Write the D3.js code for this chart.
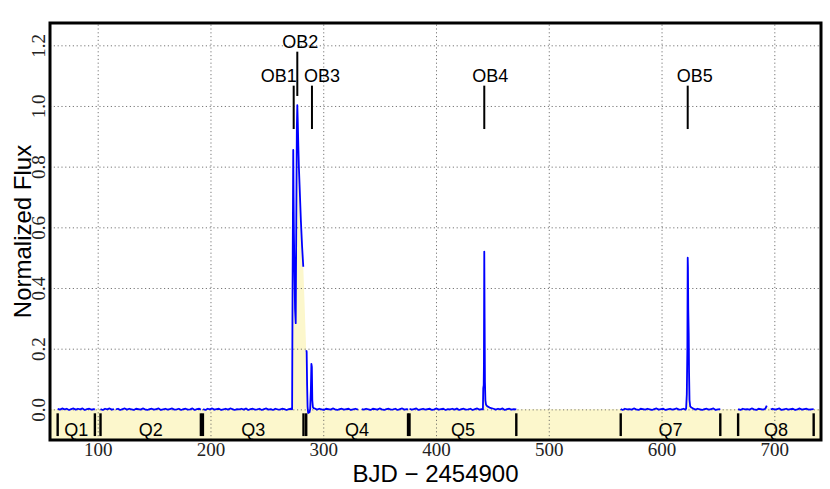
<!DOCTYPE html>
<html>
<head>
<meta charset="utf-8">
<script src="https://cdn.jsdelivr.net/npm/d3@7"></script>
<style>
  body { margin: 0; background: #fff; }
  svg { display: block; }
</style>
</head>
<body>
<svg id="chart" width="830" height="489"></svg>
<script>
// light curve, one array per continuous stretch of data: [BJD - 2454900, normalized flux]
const q1 = [[64.5,.002],[66.5,-.001],[68.5,.003],[70.5,.000],[72.5,.002],[74.5,-.002],[76.5,.001],[78.5,.003],[80.5,-.001],[82.5,.002],[84.5,.000],[86.5,.003],[88.5,-.002],[90.5,.001],[92.5,.002],[94.5,-.001],[96.5,.001],[97.5,-.001]];
const q2a = [[102.5,.001],[104.5,-.002],[106.5,.002],[108.5,.000],[110.5,.003],[112.5,-.001],[114.4,.001]];
const q2b = [[116.2,.000],[118,.002],[120,-.002],[122,.001],[124,.003],[126,-.001],[128,.002],[130,.000],[132,-.002],[134,.002],[136,.001],[138,-.001],[140,.003],[142,.000],[144,-.002],[146,.001],[148,.002],[150,-.001],[152,.001],[154,.003],[156,-.002],[158,.000],[160,.002],[162,-.001],[164,.001],[166,.003],[168,-.001],[170,.000],[172,.002],[174,-.002],[176,.001],[178,.002],[180,-.001],[182,.000],[184,.003],[186,-.002],[188,.001],[190,.002],[191.5,-.001]];
const q3 = [[193.5,.001],[195.5,-.002],[197.5,.002],[199.5,.000],[201.5,.003],[203.5,-.001],[205.5,.001],[207.5,.002],[209.5,-.002],[211.5,.000],[213.5,.002],[215.5,-.001],[217.5,.003],[219.5,.001],[221.5,-.002],[223.5,.001],[225.5,.000],[227.5,.002],[229.5,-.001],[231.5,.003],[233.5,-.002],[235.5,.001],[237.5,.002],[239.5,-.001],[241.5,.000],[243.5,.002],[245.5,-.002],[247.5,.001],[249.5,.003],[251.5,-.001],[253.5,.001],[255.5,-.002],[257.5,.002],[259.5,.000],[261.5,-.001],[263.5,.002],[265.5,.001],[267.5,-.002],[269.5,.001],[271.5,.002],[272.4,.000],
  [272.8,.40],[273.4,.855],[273.7,.70],[274.0,.58],[274.5,.45],[275.0,.33],[275.6,.284],[276.1,.62],[276.6,.93],[277.0,1.003],[277.4,.95],[277.9,.87],[278.4,.80],[279.0,.74],[279.4,.70],[280.2,.62],[281.2,.54],[282.3,.47]];
const q4a = [[284.9,.195],[285.3,.19],[285.7,.08],[286.1,.01],[286.6,-.012],[287.2,-.008],[287.8,-.01],[288.4,.000],[289.0,.06],[289.5,.15],[289.9,.14],[290.3,.03],[290.8,.008],[291.5,.004],
  [292.5,.003],[294.5,-.001],[296.5,.002],[298.5,.000],[300.5,-.002],[302.5,.002],[304.5,.001],[306.5,-.001],[308.5,.003],[310.5,.000],[312.5,-.002],[314.5,.001],[316.5,.002],[318.5,-.001],[320.5,.001],[322.5,.002],[324.5,-.002],[326.5,.000],[328.5,.002],[330.8,-.001]];
const q4b = [[334.1,.001],[336,-.001],[338,.002],[340,.000],[342,-.002],[344,.002],[346,.001],[348,-.001],[350,.003],[352,.000],[354,-.002],[356,.001],[358,.002],[360,-.001],[362,.000],[364,.002],[366,-.002],[368,.001],[370,.003],[372,-.001],[374,.001],[375.2,.000]];
const q5 = [[376.5,.002],[378.5,-.001],[380.5,.001],[382.5,.003],[384.5,-.002],[386.5,.000],[388.5,.002],[390.5,-.001],[392.5,.001],[394.5,.002],[396.5,-.002],[398.5,.000],[400.5,.003],[402.5,-.001],[404.5,.001],[406.5,.002],[408.5,-.002],[410.5,.001],[412.5,.000],[414.5,.002],[416.5,-.001],[418.5,.003],[420.5,-.002],[422.5,.001],[424.5,.002],[426.5,-.001],[428.5,.000],[430.5,.002],[432.5,-.002],[434.5,.001],[436.5,.003],[438.5,-.001],[440.5,.001],[441.6,.000],
  [441.9,.07],[442.3,.08],[442.5,.15],[442.8,.52],[443.1,.30],[443.4,.09],[443.8,.03],[444.3,.016],[445,.012],[446,.009],[447.5,.006],[449,.004],
  [451,.002],[453,-.001],[455,.002],[457,.000],[459,.003],[461,-.002],[463,.001],[465,.002],[467,-.001],[469,.001],[471.2,.000]];
const q7 = [[563.8,.001],[565.5,-.002],[567.5,.002],[569.5,.000],[571.5,.001],[573.5,-.001],[575.5,.003],[577.5,.000],[579.5,-.002],[581.5,.002],[583.5,.001],[585.5,-.001],[587.5,.002],[589.5,.000],[591.5,-.002],[593.5,.001],[595.5,.003],[597.5,-.001],[599.5,.001],[601.5,.002],[603.5,-.002],[605.5,.000],[607.5,.002],[609.5,-.001],[611.5,.001],[613.5,.003],[615.5,-.001],[617.5,.000],[619.5,.002],[621.3,-.001],[621.8,.003],
  [622.4,.05],[622.9,.20],[623.2,.50],[623.4,.47],[623.7,.33],[624.1,.245],[624.4,.12],[624.8,.03],[625.4,.01],[626.5,.006],[628,.003],
  [630,-.001],[632,.002],[634,.000],[636,-.002],[638,.001],[640,.002],[642,-.001],[644,.001],[646,.003],[648,-.002],[650,.000],[652.1,.001]];
const q8a = [[667.9,.001],[670,-.002],[672,.002],[674,.000],[676,.001],[678,-.001],[680,.003],[682,.000],[684,-.002],[686,.002],[688,.001],[690,-.001],[692,.002],[693.3,.012]];
const q8b = [[696.8,.000],[698.5,.002],[700.5,-.001],[702.5,.001],[704.5,.003],[706.5,-.002],[708.5,.000],[710.5,.002],[712.5,-.001],[714.5,.001],[716.5,.002],[718.5,-.002],[720.5,.000],[722.5,.003],[724.5,-.001],[726.5,.001],[728.5,.002],[730.5,-.001],[732.5,.000],[734.9,.001]];
const segments = [q1, q2a, q2b, q3, q4a, q4b, q5, q7, q8a, q8b];

// Kepler quarters (Q6 has no data and is not marked)
const quarterNames = ["Q1", "Q2", "Q3", "Q4", "Q5", "Q7", "Q8"];
const quarterStart = [64.5, 102.5, 193.3, 284.9, 376.5, 563.8, 667.9];
const quarterEnd = [97.5, 191.5, 282.5, 375.2, 471.2, 652.1, 734.9];

// outburst markers
const obNames = ["OB1", "OB2", "OB3", "OB4", "OB5"];
const obTimes = [273.8, 277.0, 290.0, 442.8, 623.2];
const obTickTop = [1.067, 1.179, 1.067, 1.067, 1.067];
const obTickBottom = [0.924, 1.033, 0.924, 0.924, 0.924];

const xTicks = [100, 200, 300, 400, 500, 600, 700];
const yTicks = [0.0, 0.2, 0.4, 0.6, 0.8, 1.0, 1.2];

const plotLeft = 50, plotRight = 821, plotTop = 23, plotBottom = 440;
const fillColor = "#fcf7cc";

const x = d3.scaleLinear().domain([57.7, 741.4]).range([plotLeft, plotRight]);
const y = d3.scaleLinear().domain([-0.101, 1.2735]).range([plotBottom, plotTop]);

const svg = d3.select("#chart");

// yellow band below zero and under the light curve
svg.append("rect")
  .attr("x", plotLeft).attr("y", y(0))
  .attr("width", plotRight - plotLeft).attr("height", plotBottom - y(0))
  .attr("fill", fillColor);

const allPoints = segments.flat();
svg.append("path")
  .datum(allPoints)
  .attr("fill", fillColor)
  .attr("d", d3.area().x((d) => x(d[0])).y0(y(0)).y1((d) => y(d[1])));

// dotted grid
const gridX = svg.append("g")
  .attr("transform", `translate(0,${plotBottom})`)
  .call(d3.axisBottom(x).tickValues(xTicks).tickSize(-(plotBottom - plotTop)).tickFormat(""));
const gridY = svg.append("g")
  .attr("transform", `translate(${plotLeft},0)`)
  .call(d3.axisLeft(y).tickValues(yTicks).tickSize(-(plotRight - plotLeft)).tickFormat(""));
[gridX, gridY].forEach((g) => {
  g.select(".domain").remove();
  g.selectAll("line")
    .attr("stroke", "#555")
    .attr("stroke-width", 0.8)
    .attr("stroke-dasharray", "1.2,2.6");
});

// quarter markers
const quarters = svg.append("g");
quarterNames.forEach((name, i) => {
  [quarterStart[i], quarterEnd[i]].forEach((t) => {
    quarters.append("line")
      .attr("x1", x(t)).attr("x2", x(t))
      .attr("y1", y(-0.013)).attr("y2", y(-0.088))
      .attr("stroke", "#000")
      .attr("stroke-width", 2.4);
  });
  quarters.append("text")
    .attr("x", x((quarterStart[i] + quarterEnd[i]) / 2))
    .attr("y", y(-0.0867))
    .attr("text-anchor", "middle")
    .attr("font-family", "Liberation Sans, Arial, sans-serif")
    .attr("font-size", 18)
    .attr("fill", "#000")
    .text(name);
});

// light curve
const line = d3.line().x((d) => x(d[0])).y((d) => y(d[1]));
svg.append("g")
  .selectAll("path")
  .data(segments)
  .join("path")
  .attr("fill", "none")
  .attr("stroke", "#0000ff")
  .attr("stroke-width", 1.8)
  .attr("stroke-linejoin", "round")
  .attr("d", line);

// outburst labels
const obLabelShift = [-15, 3, 10, 6, 7];
const obs = svg.append("g");
obNames.forEach((name, i) => {
  obs.append("line")
    .attr("x1", x(obTimes[i])).attr("x2", x(obTimes[i]))
    .attr("y1", y(obTickTop[i])).attr("y2", y(obTickBottom[i]))
    .attr("stroke", "#000")
    .attr("stroke-width", 2);
  obs.append("text")
    .attr("x", x(obTimes[i]) + obLabelShift[i])
    .attr("y", y(obTickTop[i]) - 4)
    .attr("text-anchor", "middle")
    .attr("font-family", "Liberation Sans, Arial, sans-serif")
    .attr("font-size", 18)
    .attr("fill", "#000")
    .text(name);
});

// frame
svg.append("rect")
  .attr("x", plotLeft).attr("y", plotTop)
  .attr("width", plotRight - plotLeft).attr("height", plotBottom - plotTop)
  .attr("fill", "none")
  .attr("stroke", "#000")
  .attr("stroke-width", 3);

// tick labels
const xAxis = svg.append("g")
  .attr("transform", `translate(0,${plotBottom})`)
  .call(d3.axisBottom(x).tickValues(xTicks).tickSize(0).tickPadding(2));
xAxis.select(".domain").remove();
xAxis.selectAll("text")
  .attr("font-family", "Liberation Serif, Times New Roman, serif")
  .attr("font-size", 19)
  .attr("fill", "#222");

const yAxis = svg.append("g")
  .attr("transform", `translate(${plotLeft},0)`)
  .call(d3.axisLeft(y).tickValues(yTicks).tickSize(0).tickFormat(d3.format(".1f")));
yAxis.select(".domain").remove();
yAxis.selectAll("text")
  .attr("x", null).attr("dy", null)
  .attr("text-anchor", "middle")
  .attr("transform", "translate(-5,0) rotate(-90)")
  .attr("font-family", "Liberation Serif, Times New Roman, serif")
  .attr("font-size", 19)
  .attr("fill", "#222");

// axis titles
svg.append("text")
  .attr("x", (plotLeft + plotRight) / 2)
  .attr("y", 482)
  .attr("text-anchor", "middle")
  .attr("font-family", "Liberation Sans, Arial, sans-serif")
  .attr("font-size", 24)
  .attr("fill", "#000")
  .text("BJD \u2212 2454900");

svg.append("text")
  .attr("transform", `translate(31,${(plotTop + plotBottom) / 2}) rotate(-90)`)
  .attr("text-anchor", "middle")
  .attr("font-family", "Liberation Sans, Arial, sans-serif")
  .attr("font-size", 24)
  .attr("fill", "#000")
  .text("Normalized Flux");
</script>
</body>
</html>
